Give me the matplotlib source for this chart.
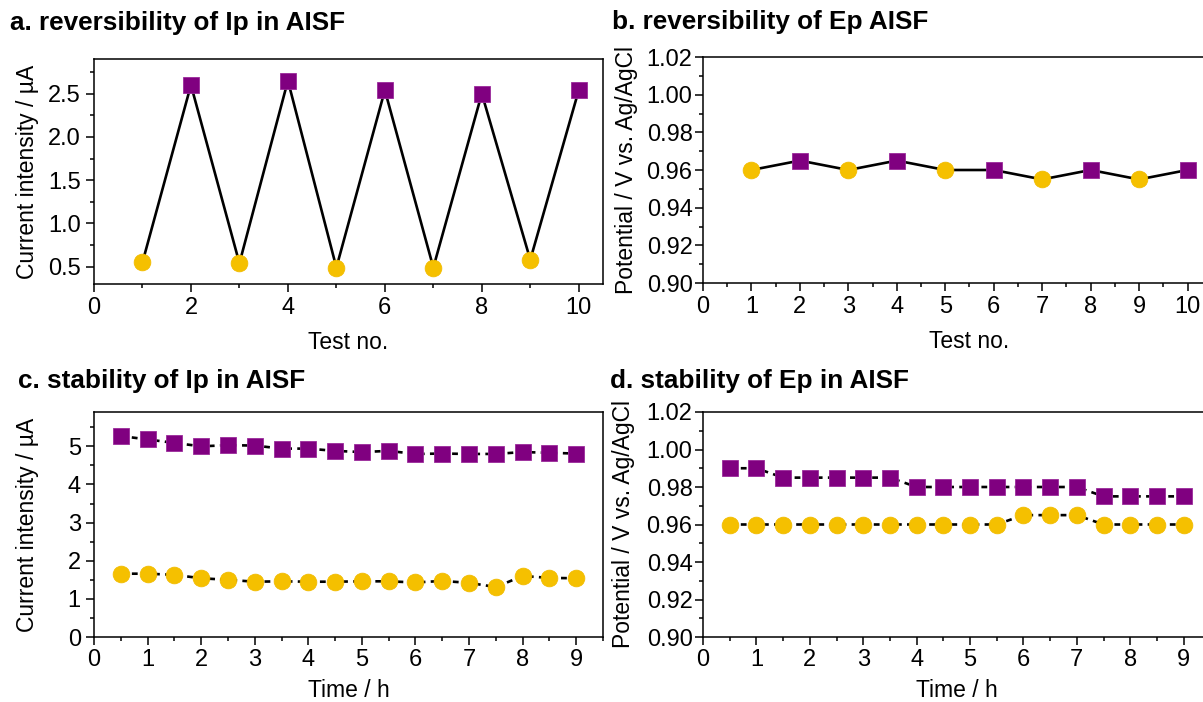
import matplotlib
matplotlib.use('Agg')
import matplotlib.pyplot as plt
from matplotlib.ticker import MultipleLocator

plt.rcParams['font.family'] = ['Liberation Sans', 'DejaVu Sans']

# ---------------- data ----------------
test_no = [1, 2, 3, 4, 5, 6, 7, 8, 9, 10]
ip_rev = [0.55, 2.60, 0.54, 2.65, 0.49, 2.54, 0.49, 2.50, 0.58, 2.54]
ep_rev = [0.960, 0.965, 0.960, 0.965, 0.960, 0.960, 0.955, 0.960, 0.955, 0.960]
# marker type per test: 'c' = circle (yellow), 's' = square (purple)
ip_rev_kind = ['c', 's', 'c', 's', 'c', 's', 'c', 's', 'c', 's']
ep_rev_kind = ['c', 's', 'c', 's', 'c', 's', 'c', 's', 'c', 's']

time_h = [0.5, 1.0, 1.5, 2.0, 2.5, 3.0, 3.5, 4.0, 4.5, 5.0, 5.5, 6.0, 6.5, 7.0, 7.5, 8.0, 8.5, 9.0]
ip_stab_sq = [5.27, 5.18, 5.09, 5.00, 5.03, 5.02, 4.94, 4.94, 4.88, 4.85, 4.88, 4.80, 4.81, 4.80, 4.80, 4.85, 4.83, 4.81]
ip_stab_ci = [1.66, 1.66, 1.63, 1.54, 1.50, 1.45, 1.46, 1.45, 1.45, 1.46, 1.46, 1.43, 1.47, 1.42, 1.31, 1.60, 1.55, 1.54]
ep_stab_sq = [0.990, 0.990, 0.985, 0.985, 0.985, 0.985, 0.985, 0.980, 0.980, 0.980, 0.980, 0.980, 0.980, 0.980, 0.975, 0.975, 0.975, 0.975]
ep_stab_ci = [0.960, 0.960, 0.960, 0.960, 0.960, 0.960, 0.960, 0.960, 0.960, 0.960, 0.960, 0.965, 0.965, 0.965, 0.960, 0.960, 0.960, 0.960]

titles = ['a. reversibility of Ip in AISF', 'b. reversibility of Ep AISF',
          'c. stability of Ip in AISF', 'd. stability of Ep in AISF']

PURPLE = '#800080'
PURPLE_EDGE = '#9a2a9a'
YELLOW = '#F5C000'
YELLOW_EDGE = '#F2BC00'

W, H = 1203, 702
fig = plt.figure(figsize=(W / 100, H / 100), dpi=100)


def add_axes(l, r, t, b):
    return fig.add_axes([l / W, 1 - b / H, (r - l) / W, (b - t) / H])


def style(ax):
    for s in ['top', 'right', 'left', 'bottom']:
        ax.spines[s].set_linewidth(1.1)
        ax.spines[s].set_color('black')
    ax.tick_params(which='both', direction='out', top=False, right=False,
                   width=1.1, labelsize=17, color='black')
    ax.tick_params(which='major', length=5.5)
    ax.tick_params(which='minor', length=3)


def marker_kw(kind):
    if kind == 's':
        return dict(marker='s', markersize=11, markerfacecolor=PURPLE,
                    markeredgecolor=PURPLE_EDGE, markeredgewidth=0.6)
    return dict(marker='o', markersize=12, markerfacecolor=YELLOW,
                markeredgecolor=YELLOW_EDGE, markeredgewidth=0.6)


axa = add_axes(94, 603, 59, 284)
axb = add_axes(703, 703 + 11 * 48.45, 57, 283)
axc = add_axes(94, 603, 412, 637)
axd = add_axes(703, 703 + 9.5 * 53.4, 412, 637)

# ---- a ----
axa.plot(test_no, ip_rev, color='black', lw=1.9, zorder=2)
for x, y, k in zip(test_no, ip_rev, ip_rev_kind):
    axa.plot([x], [y], linestyle='none', zorder=3, **marker_kw(k))
axa.set_xlim(0, 10.5)
axa.set_ylim(0.3, 2.9)
axa.xaxis.set_major_locator(MultipleLocator(2))
axa.xaxis.set_minor_locator(MultipleLocator(1))
axa.yaxis.set_major_locator(MultipleLocator(0.5))
axa.yaxis.set_minor_locator(MultipleLocator(0.25))
axa.yaxis.set_major_formatter(matplotlib.ticker.FormatStrFormatter('%.1f'))

# ---- b ----
axb.plot(test_no, ep_rev, color='black', lw=1.9, zorder=2)
for x, y, k in zip(test_no, ep_rev, ep_rev_kind):
    axb.plot([x], [y], linestyle='none', zorder=3, **marker_kw(k))
axb.set_xlim(0, 11)
axb.set_ylim(0.90, 1.02)
axb.xaxis.set_major_locator(MultipleLocator(1))
axb.xaxis.set_minor_locator(MultipleLocator(0.5))
axb.yaxis.set_major_locator(MultipleLocator(0.02))
axb.yaxis.set_minor_locator(MultipleLocator(0.01))
axb.yaxis.set_major_formatter(matplotlib.ticker.FormatStrFormatter('%.2f'))

# ---- c ----
dash = (0, (2.2, 2.0))
axc.plot(time_h, ip_stab_sq, color='black', lw=1.9, linestyle=dash, zorder=2)
axc.plot(time_h, ip_stab_ci, color='black', lw=1.9, linestyle=dash, zorder=2)
axc.plot(time_h, ip_stab_sq, linestyle='none', zorder=3, **marker_kw('s'))
axc.plot(time_h, ip_stab_ci, linestyle='none', zorder=3, **marker_kw('c'))
axc.set_xlim(0, 9.5)
axc.set_ylim(0, 5.9)
axc.xaxis.set_major_locator(MultipleLocator(1))
axc.xaxis.set_minor_locator(MultipleLocator(0.5))
axc.yaxis.set_major_locator(MultipleLocator(1))
axc.yaxis.set_minor_locator(MultipleLocator(0.5))

# ---- d ----
axd.plot(time_h, ep_stab_sq, color='black', lw=1.9, linestyle=dash, zorder=2)
axd.plot(time_h, ep_stab_ci, color='black', lw=1.9, linestyle=dash, zorder=2)
axd.plot(time_h, ep_stab_sq, linestyle='none', zorder=3, **marker_kw('s'))
axd.plot(time_h, ep_stab_ci, linestyle='none', zorder=3, **marker_kw('c'))
axd.set_xlim(0, 9.5)
axd.set_ylim(0.90, 1.02)
axd.xaxis.set_major_locator(MultipleLocator(1))
axd.xaxis.set_minor_locator(MultipleLocator(0.5))
axd.yaxis.set_major_locator(MultipleLocator(0.02))
axd.yaxis.set_minor_locator(MultipleLocator(0.01))
axd.yaxis.set_major_formatter(matplotlib.ticker.FormatStrFormatter('%.2f'))

for ax in (axa, axb, axc, axd):
    style(ax)
    for sp in ax.spines.values():
        sp.set_clip_on(False)

axa.tick_params(axis='y', pad=4)
axc.tick_params(axis='y', pad=4)
axb.tick_params(axis='y', pad=2)
axd.tick_params(axis='y', pad=2)

axa.set_xlabel('Test no.', fontsize=16.5)
axb.set_xlabel('Test no.', fontsize=16.5)
axc.set_xlabel('Time / h', fontsize=16.5)
axd.set_xlabel('Time / h', fontsize=16.5)
axa.set_ylabel('Current intensity / µA', fontsize=16.5)
axc.set_ylabel('Current intensity / µA', fontsize=16.5)
axb.set_ylabel('Potential / V vs. Ag/AgCl', fontsize=16.5)
axd.set_ylabel('Potential / V vs. Ag/AgCl', fontsize=16.5)

axa.xaxis.set_label_coords(0.5, -0.21)
axb.xaxis.set_label_coords(0.5, -0.21)
axc.xaxis.set_label_coords(0.5, -0.188)
axd.xaxis.set_label_coords(0.5, -0.188)
axa.yaxis.set_label_coords(-0.108, 0.5)
axc.yaxis.set_label_coords(-0.108, 0.5)
axb.yaxis.set_label_coords(-0.122, 0.5)
axd.yaxis.set_label_coords(-0.134, 0.5)

fig.text(10 / W, 1 - 23 / H, titles[0], fontsize=18.8, fontweight='bold', va='center', ha='left')
fig.text(612 / W, 1 - 22 / H, titles[1], fontsize=18.8, fontweight='bold', va='center', ha='left')
fig.text(18 / W, 1 - 381 / H, titles[2], fontsize=18.8, fontweight='bold', va='center', ha='left')
fig.text(610 / W, 1 - 381 / H, titles[3], fontsize=18.8, fontweight='bold', va='center', ha='left')

fig.savefig('out.png', dpi=100)
